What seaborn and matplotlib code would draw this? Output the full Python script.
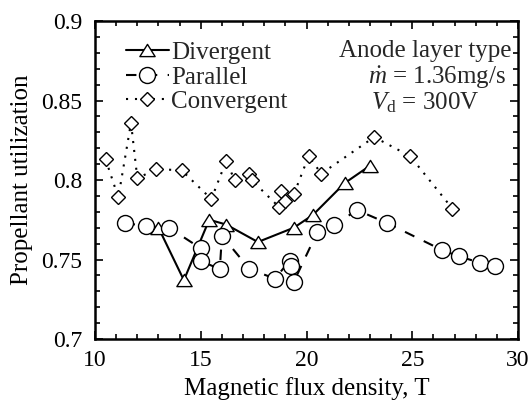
import numpy as np
import pandas as pd
import seaborn as sns
import matplotlib
matplotlib.use("Agg")
import matplotlib.pyplot as plt
from matplotlib.path import Path

# ---- data ----
div_x = [13.0, 14.2, 15.4, 16.2, 17.7, 19.4, 20.3, 21.8, 23.0]
div_y = [0.770, 0.737, 0.775, 0.772, 0.761, 0.770, 0.778, 0.798, 0.809]

par_x = [11.4, 12.4, 13.5, 15.0, 15.0, 15.9, 16.0, 17.3, 18.5, 19.2, 19.25, 19.4,
         20.5, 21.3, 22.4, 23.8, 26.4, 27.2, 28.2, 28.9]
par_y = [0.773, 0.771, 0.770, 0.757, 0.749, 0.744, 0.765, 0.744, 0.738, 0.749, 0.746, 0.736,
         0.767, 0.772, 0.781, 0.773, 0.756, 0.752, 0.748, 0.746]

con_x = [10.5, 11.1, 11.7, 12.0, 12.9, 14.1, 15.5, 16.2, 16.6, 17.3, 17.4, 18.7, 18.8,
         19.0, 19.4, 20.1, 20.7, 23.2, 24.9, 26.9]
con_y = [0.813, 0.789, 0.836, 0.801, 0.807, 0.806, 0.788, 0.812, 0.800, 0.804, 0.800, 0.783,
         0.793, 0.787, 0.791, 0.815, 0.804, 0.827, 0.815, 0.782]

labels = ["Divergent", "Parallel", "Convergent"]
xticks = [10, 15, 20, 25, 30]
yticks = [0.7, 0.75, 0.8, 0.85, 0.9]
ytick_labels = ["0.7", "0.75", "0.8", "0.85", "0.9"]

sns.set_theme(style="ticks")
plt.rcParams["font.family"] = ["Liberation Serif", "DejaVu Serif"]
plt.rcParams["mathtext.fontset"] = "custom"
plt.rcParams["mathtext.rm"] = "Liberation Serif"
plt.rcParams["mathtext.it"] = "Liberation Serif:italic"

fig = plt.figure(figsize=(5.31, 4.01), dpi=100)
ax = fig.add_axes([0.179, 0.1546, 0.7965, 0.793])

tri = Path([(-1, -0.8), (1, -0.8), (0, 0.8), (-1, -0.8)], closed=True)

common = dict(color="black", markerfacecolor="white", markeredgecolor="black",
              markeredgewidth=1.0, estimator=None, sort=False, ax=ax)

sns.lineplot(x=div_x, y=div_y, marker=tri, markersize=11, linewidth=1.5,
             linestyle="-", label=labels[0], **common)
sns.lineplot(x=par_x, y=par_y, marker="o", markersize=11.5, linewidth=1.5,
             linestyle=(0, (5, 5)), label=labels[1], **common)
sns.lineplot(x=con_x, y=con_y, marker="D", markersize=7.3, linewidth=1.5,
             linestyle=(0, (1, 3.3)), label=labels[2], **common)

ax.set_xlim(10, 30)
ax.set_ylim(0.7, 0.9)
ax.set_xticks(xticks)
ax.set_yticks(yticks)
ax.set_yticklabels(ytick_labels)
ax.set_xticks(np.arange(10, 31, 1), minor=True)
ax.set_yticks(np.arange(0.7, 0.9001, 0.01), minor=True)
ax.tick_params(which="both", direction="in", top=True, right=True, width=1.2,
               labelsize=17, colors="black")
ax.tick_params(which="major", length=6)
ax.tick_params(which="minor", length=3.5)
ax.tick_params(axis="x", which="both", pad=8)
ax.tick_params(axis="y", which="both", pad=9)
for s in ax.spines.values():
    s.set_linewidth(1.8)
    s.set_color("black")

ax.set_xlabel("Magnetic flux density, T", fontsize=18, color="black", labelpad=4)
ax.set_ylabel("Propellant utilization", fontsize=18, color="black", labelpad=6)

h, l = ax.get_legend_handles_labels()
ax.legend(h, l, loc="upper left", bbox_to_anchor=(0.025, 1.0), frameon=False,
          fontsize=18, handlelength=1.7, handletextpad=0.1, labelspacing=0.08,
          borderaxespad=0.42, numpoints=1)

ax.text(0.985, 0.905, "Anode layer type", transform=ax.transAxes, ha="right",
        va="center", fontsize=18)
ax.text(0.645, 0.823, r"$\dot{m}$ = 1.36mg/s", transform=ax.transAxes, ha="left",
        va="center", fontsize=18)
ax.text(0.652, 0.742, r"$V_{\mathrm{d}}$ = 300V", transform=ax.transAxes, ha="left",
        va="center", fontsize=18)

fig.savefig("out.png", dpi=100)
